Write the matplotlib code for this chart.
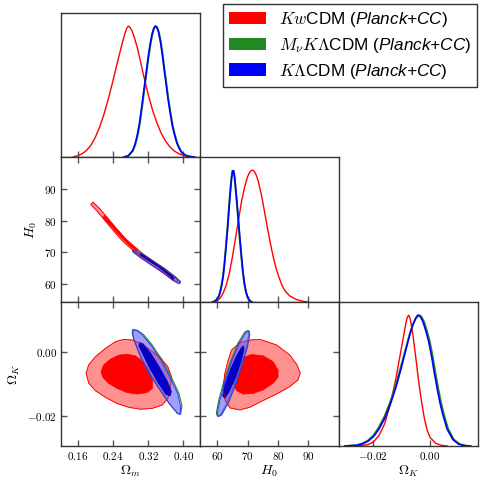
import matplotlib
matplotlib.use('Agg')
import matplotlib.pyplot as plt
from matplotlib.patches import Patch
from matplotlib.font_manager import FontProperties

plt.rcParams['mathtext.fontset'] = 'cm'
plt.rcParams['mathtext.rm'] = 'cmr10'
plt.rcParams['mathtext.it'] = 'cmmi10'
plt.rcParams['mathtext.sf'] = 'Liberation Sans:italic'
plt.rcParams['font.family'] = ['Liberation Sans', 'DejaVu Sans']

# ---- 1D marginals (peak normalised to 1) ----
om_red_x = [0.150, 0.160, 0.170, 0.180, 0.190, 0.200, 0.210, 0.220, 0.230, 0.240, 0.250, 0.256, 0.262,
            0.267, 0.271, 0.275, 0.279, 0.284, 0.290, 0.295, 0.300, 0.310, 0.320, 0.330, 0.340, 0.350,
            0.360, 0.370, 0.380, 0.390, 0.400, 0.410, 0.420]
om_red_y = [0.0, 0.01, 0.025, 0.05, 0.09, 0.15, 0.23, 0.33, 0.45, 0.58, 0.72, 0.80, 0.88,
            0.94, 0.98, 1.0, 0.99, 0.96, 0.90, 0.84, 0.77, 0.62, 0.48, 0.36, 0.26, 0.18,
            0.12, 0.075, 0.045, 0.025, 0.012, 0.005, 0.0]
om_blue_x = [0.265, 0.275, 0.285, 0.290, 0.295, 0.300, 0.305, 0.310, 0.315, 0.320, 0.325, 0.329, 0.333,
             0.3365, 0.340, 0.344, 0.348, 0.352, 0.356, 0.360, 0.365, 0.370, 0.375, 0.380, 0.385, 0.390,
             0.395, 0.400, 0.405, 0.410, 0.415, 0.425]
om_blue_y = [0.0, 0.01, 0.05, 0.095, 0.16, 0.25, 0.37, 0.50, 0.63, 0.76, 0.87, 0.94, 0.985,
             1.0, 0.99, 0.95, 0.88, 0.79, 0.68, 0.58, 0.45, 0.34, 0.24, 0.17, 0.11, 0.07,
             0.04, 0.024, 0.013, 0.007, 0.003, 0.0]
om_green_x = [0.266, 0.276, 0.286, 0.291, 0.296, 0.301, 0.306, 0.311, 0.316, 0.321, 0.326, 0.330, 0.334,
              0.3375, 0.341, 0.345, 0.349, 0.353, 0.357, 0.361, 0.366, 0.371, 0.376, 0.381, 0.386, 0.391,
              0.396, 0.401, 0.406, 0.411, 0.416, 0.426]
om_green_y = om_blue_y

h0_red_x = [59, 60, 61, 62, 63, 64, 65, 66, 67, 68, 69, 70, 70.6, 71.2, 71.8, 72.4, 73.0, 73.5, 74.5,
            75.5, 76.5, 77.5, 78.5, 79.5, 80.5, 81.5, 82.5, 84, 86, 88, 90]
h0_red_y = [0.0, 0.01, 0.03, 0.07, 0.13, 0.22, 0.34, 0.48, 0.62, 0.76, 0.87, 0.95, 0.98, 0.998, 1.0,
            0.985, 0.955, 0.92, 0.82, 0.70, 0.57, 0.45, 0.34, 0.25, 0.18, 0.12, 0.08, 0.045, 0.02,
            0.007, 0.0]
h0_blue_x = [58.5, 59.5, 60.5, 61.0, 61.5, 62.0, 62.5, 63.0, 63.5, 64.0, 64.5, 64.8, 65.1, 65.4, 65.7,
             66.0, 66.5, 67.0, 67.5, 68.0, 68.5, 69.0, 69.5, 70.0, 70.5, 71.0, 71.5]
h0_blue_y = [0.0, 0.01, 0.04, 0.075, 0.13, 0.20, 0.31, 0.44, 0.58, 0.74, 0.88, 0.95, 0.995, 0.995, 0.96,
             0.89, 0.76, 0.62, 0.48, 0.35, 0.23, 0.14, 0.08, 0.04, 0.018, 0.006, 0.0]
h0_green_x = [58.4, 59.4, 60.4, 60.9, 61.4, 61.9, 62.4, 62.9, 63.4, 63.9, 64.4, 64.7, 65.0, 65.3, 65.6,
              65.9, 66.4, 66.9, 67.4, 67.9, 68.4, 68.9, 69.4, 69.9, 70.4, 70.9, 71.4]
h0_green_y = h0_blue_y

ok_red_x = [-0.026, -0.022, -0.020, -0.018, -0.016, -0.014, -0.012, -0.010, -0.009, -0.0085, -0.008,
            -0.0075, -0.007, -0.0065, -0.006, -0.005, -0.004, -0.003, -0.002, -0.001, 0.000, 0.002,
            0.004, 0.006]
ok_red_y = [0.0, 0.01, 0.03, 0.08, 0.17, 0.32, 0.52, 0.76, 0.88, 0.94, 0.985, 1.0, 0.97, 0.91, 0.84,
            0.67, 0.49, 0.34, 0.21, 0.12, 0.065, 0.02, 0.005, 0.0]
ok_blue_x = [-0.030, -0.026, -0.024, -0.022, -0.020, -0.018, -0.016, -0.014, -0.012, -0.010, -0.008,
             -0.007, -0.006, -0.005, -0.0043, -0.0035, -0.0025, -0.0015, -0.0005, 0.0005, 0.0015,
             0.0025, 0.0035, 0.0045, 0.006, 0.008, 0.010, 0.012, 0.014]
ok_blue_y = [0.0, 0.005, 0.015, 0.035, 0.07, 0.13, 0.21, 0.32, 0.45, 0.61, 0.78, 0.86, 0.93, 0.98,
             1.0, 0.99, 0.95, 0.88, 0.80, 0.69, 0.56, 0.44, 0.33, 0.24, 0.13, 0.05, 0.015, 0.003, 0.0]
ok_green_x = [-0.030, -0.026, -0.024, -0.022, -0.020, -0.018, -0.016, -0.014, -0.012, -0.010, -0.008,
              -0.007, -0.006, -0.005, -0.0039, -0.0031, -0.0021, -0.0011, -0.0001, 0.0009, 0.0019,
              0.0029, 0.0039, 0.0049, 0.0064, 0.0084, 0.0104, 0.0124, 0.0144]
ok_green_y = [0.0, 0.006, 0.018, 0.04, 0.08, 0.145, 0.23, 0.34, 0.47, 0.63, 0.79, 0.87, 0.93, 0.975,
              1.0, 0.99, 0.95, 0.88, 0.80, 0.69, 0.56, 0.44, 0.33, 0.24, 0.13, 0.05, 0.015, 0.003, 0.0]

# ---- 2D contours (outer = 95%, inner = 68%), vertices ----
# Omega_m vs H0
omh_red_out = [(0.1945, 85.95), (0.2105, 83.83), (0.2296, 80.64), (0.2486, 77.46), (0.2677, 74.49),
               (0.2906, 71.62), (0.3135, 68.97), (0.3364, 66.63), (0.3592, 64.51), (0.3814, 62.07),
               (0.3882, 61.11), (0.3844, 60.58), (0.3768, 61.22), (0.3531, 63.66), (0.3303, 65.78),
               (0.3074, 68.12), (0.2845, 70.77), (0.2616, 73.64), (0.2425, 76.61), (0.2235, 79.80),
               (0.2044, 82.98), (0.1899, 85.10)]
omh_red_in = [(0.2204, 81.71), (0.2395, 78.84), (0.2586, 75.87), (0.2776, 73.0), (0.2967, 70.88),
              (0.2937, 70.35), (0.2746, 72.47), (0.2555, 75.23), (0.2364, 78.20), (0.2174, 81.07)]
omh_blue_out = [(0.2860, 70.67), (0.3127, 68.86), (0.3356, 66.74), (0.3585, 64.62), (0.3814, 62.17),
                (0.3936, 60.58), (0.3913, 60.05), (0.3768, 61.11), (0.3539, 63.55), (0.3310, 65.68),
                (0.3081, 67.80), (0.2853, 70.14)]
omh_blue_in = [(0.3036, 69.6), (0.3257, 67.69), (0.3486, 65.57), (0.3714, 63.02), (0.3791, 61.86),
               (0.3768, 61.32), (0.3692, 62.49), (0.3463, 65.04), (0.3234, 67.16), (0.3013, 69.18)]
omh_green_out = [(0.2855, 70.90), (0.3127, 69.06), (0.3356, 66.94), (0.3585, 64.82), (0.3814, 62.37),
                 (0.3936, 60.78), (0.3913, 60.15), (0.3768, 61.21), (0.3539, 63.65), (0.3310, 65.78),
                 (0.3081, 67.90), (0.2848, 70.30)]

# Omega_m vs Omega_K
omk_red_out = [(0.179, -0.0066), (0.185, -0.0040), (0.200, -0.0015), (0.223, 0.0011), (0.246, 0.0032),
               (0.265, 0.0039), (0.284, 0.0037), (0.299, 0.0029), (0.314, 0.0017), (0.330, 0.0001),
               (0.349, -0.0020), (0.365, -0.0046), (0.373, -0.0077), (0.371, -0.0113), (0.365, -0.0144),
               (0.352, -0.0165), (0.330, -0.0175), (0.303, -0.0178), (0.276, -0.0172), (0.249, -0.0160),
               (0.223, -0.0141), (0.200, -0.0120), (0.185, -0.0097)]
omk_red_in = [(0.213, -0.0061), (0.219, -0.0040), (0.234, -0.0023), (0.253, -0.0010), (0.272, -0.0007),
              (0.291, -0.0012), (0.309, -0.0030), (0.322, -0.0056), (0.330, -0.0085), (0.330, -0.0113),
              (0.318, -0.0126), (0.295, -0.0131), (0.272, -0.0126), (0.249, -0.0113), (0.230, -0.0097),
              (0.217, -0.0079)]
omk_blue_out = [(0.286, 0.0068), (0.295, 0.0066), (0.307, 0.0053), (0.326, 0.0022), (0.349, -0.0025),
                (0.371, -0.0082), (0.387, -0.0128), (0.394, -0.0170), (0.393, -0.0194), (0.387, -0.0191),
                (0.368, -0.0160), (0.345, -0.0113), (0.322, -0.0066), (0.303, -0.0015), (0.288, 0.0037),
                (0.285, 0.0058)]
omk_blue_in = [(0.301, 0.0029), (0.309, 0.0025), (0.326, -0.0004), (0.345, -0.0046), (0.364, -0.0092),
               (0.373, -0.0123), (0.370, -0.0137), (0.360, -0.0131), (0.341, -0.0092), (0.322, -0.0046),
               (0.307, -0.0004), (0.299, 0.0019)]
omk_green_out = [(0.285, 0.0070), (0.296, 0.0067), (0.310, 0.0053), (0.329, 0.0022), (0.352, -0.0025),
                 (0.374, -0.0082), (0.390, -0.0128), (0.397, -0.0168), (0.394, -0.0192), (0.387, -0.0191),
                 (0.368, -0.0160), (0.345, -0.0113), (0.322, -0.0066), (0.303, -0.0015), (0.288, 0.0037),
                 (0.284, 0.0058)]

# H0 vs Omega_K
hk_red_out = [(61.98, -0.0108), (62.52, -0.0066), (63.62, -0.0025), (64.72, 0.0006), (67.46, 0.0029),
              (70.75, 0.0037), (74.04, 0.0039), (79.52, 0.0022), (83.91, -0.0009), (86.32, -0.0040),
              (87.41, -0.0066), (86.65, -0.0087), (83.91, -0.0108), (79.52, -0.0131), (75.13, -0.0151),
              (70.75, -0.0172), (67.46, -0.0180), (64.17, -0.0174), (62.52, -0.0149)]
hk_red_in = [(65.48, -0.0066), (66.36, -0.0040), (68.55, -0.0017), (71.3, -0.0008), (75.13, -0.0012),
             (78.42, -0.0030), (80.07, -0.0056), (80.07, -0.0079), (78.42, -0.0097), (75.13, -0.0118),
             (71.84, -0.0129), (68.55, -0.0131), (66.36, -0.0120), (65.27, -0.0097)]
hk_blue_out = [(69.43, 0.0060), (70.53, 0.0065), (70.75, 0.0053), (69.87, 0.0011), (68.01, -0.0046),
               (65.81, -0.0108), (63.62, -0.0160), (61.43, -0.0196), (60.33, -0.0201), (60.0, -0.0191),
               (60.88, -0.0149), (62.52, -0.0092), (64.72, -0.0030), (67.24, 0.0027)]
hk_blue_in = [(68.55, 0.0019), (68.88, 0.0011), (68.01, -0.0025), (66.14, -0.0077), (63.95, -0.0123),
              (62.52, -0.0144), (61.76, -0.0137), (62.52, -0.0103), (64.39, -0.0054), (66.36, -0.0012),
              (67.79, 0.0011)]
hk_green_out = [(69.13, 0.0062), (70.23, 0.0067), (70.45, 0.0055), (69.57, 0.0013), (67.71, -0.0044),
                (65.51, -0.0106), (63.32, -0.0158), (61.13, -0.0194), (60.03, -0.0199), (59.70, -0.0189),
                (60.58, -0.0147), (62.22, -0.0090), (64.42, -0.0028), (66.94, 0.0029)]

om_lim = (0.122, 0.438)
h0_lim = (54.3, 100.2)
okx_lim = (-0.0321, 0.0169)
oky_lim = (-0.0292, 0.0155)

om_ticks = [0.16, 0.24, 0.32, 0.40]
om_labels = ['$0.16$', '$0.24$', '$0.32$', '$0.40$']
h0_ticks = [60, 70, 80, 90]
h0_labels = ['$60$', '$70$', '$80$', '$90$']
ok_ticks = [-0.02, 0.00]
ok_labels = ['$-0.02$', '$0.00$']

legend_labels = [r'$Kw$CDM ($\mathsf{Planck}$$\mathsf{+CC}$)',
                 r'$M_\nu K\Lambda$CDM ($\mathsf{Planck}$$\mathsf{+CC}$)',
                 r'$K\Lambda$CDM ($\mathsf{Planck}$$\mathsf{+CC}$)']

RED = '#ff0000'
GREEN = '#1f8a1f'
BLUE = '#0000ff'

fig = plt.figure(figsize=(4.8, 4.8), dpi=100)
W = 139 / 480
lefts = [61 / 480, 200 / 480, 339 / 480]
bottoms = [1 - 157 / 480, 1 - 302 / 480, 1 - 446 / 480]
heights = [144 / 480, 145 / 480, 144 / 480]


def make_ax(col, row):
    ax = fig.add_axes([lefts[col], bottoms[row], W, heights[row]])
    for s in ax.spines.values():
        s.set_color('#333333')
        s.set_linewidth(1.0)
    ax.tick_params(direction='in', length=4, width=1, color='#555555', labelsize=8, pad=3)
    return ax


def style_2d(ax):
    ax.tick_params(top=True, right=True)


def draw_2d(ax, red_out, red_in, green_out, blue_out, blue_in):
    rx, ry = zip(*red_out)
    ax.fill(rx, ry, facecolor='#ff9090', edgecolor=RED, lw=0.6, zorder=1)
    ix, iy = zip(*red_in)
    ax.fill(ix, iy, facecolor=RED, edgecolor=RED, lw=0.5, zorder=2)
    gx, gy = zip(*green_out)
    ax.fill(gx, gy, facecolor='none', edgecolor=GREEN, lw=0.8, zorder=3)
    bx, by = zip(*blue_out)
    ax.fill(bx, by, facecolor='#6060ff', alpha=0.6, edgecolor='none', zorder=4)
    ax.fill(bx, by, facecolor='none', edgecolor='#3030ff', lw=0.7, zorder=5)
    jx, jy = zip(*blue_in)
    ax.fill(jx, jy, facecolor='#0000c8', edgecolor='#0000c8', lw=0.5, zorder=6)
    ax.plot(list(rx) + [rx[0]], list(ry) + [ry[0]], color=RED, lw=0.5, alpha=0.6, zorder=7)


# 1D: Omega_m
ax = make_ax(0, 0)
ax.plot(om_red_x, om_red_y, color=RED, lw=1.0)
ax.plot(om_green_x, om_green_y, color=GREEN, lw=1.3)
ax.plot(om_blue_x, om_blue_y, color=BLUE, lw=1.2)
ax.set_xlim(om_lim)
ax.set_ylim(0, 1.1)
ax.set_yticks([])
ax.set_xticks(om_ticks)
ax.set_xticklabels([])

# 2D: Omega_m - H0
ax = make_ax(0, 1)
draw_2d(ax, omh_red_out, omh_red_in, omh_green_out, omh_blue_out, omh_blue_in)
style_2d(ax)
ax.set_xlim(om_lim)
ax.set_ylim(h0_lim)
ax.set_xticks(om_ticks)
ax.set_xticklabels([])
ax.set_yticks(h0_ticks)
ax.set_yticklabels(h0_labels)
ax.set_ylabel('$H_0$', fontsize=10, labelpad=4)

# 2D: Omega_m - Omega_K
ax = make_ax(0, 2)
draw_2d(ax, omk_red_out, omk_red_in, omk_green_out, omk_blue_out, omk_blue_in)
style_2d(ax)
ax.set_xlim(om_lim)
ax.set_ylim(oky_lim)
ax.set_xticks(om_ticks)
ax.set_xticklabels(om_labels)
ax.set_yticks(ok_ticks)
ax.set_yticklabels(ok_labels)
ax.set_xlabel(r'$\Omega_m$', fontsize=10, labelpad=1)
ax.set_ylabel(r'$\Omega_K$', fontsize=10, labelpad=4)

# 1D: H0
ax = make_ax(1, 1)
ax.plot(h0_red_x, h0_red_y, color=RED, lw=1.0)
ax.plot(h0_green_x, h0_green_y, color=GREEN, lw=1.3)
ax.plot(h0_blue_x, h0_blue_y, color=BLUE, lw=1.2)
ax.set_xlim(h0_lim)
ax.set_ylim(0, 1.1)
ax.set_yticks([])
ax.set_xticks(h0_ticks)
ax.set_xticklabels([])

# 2D: H0 - Omega_K
ax = make_ax(1, 2)
draw_2d(ax, hk_red_out, hk_red_in, hk_green_out, hk_blue_out, hk_blue_in)
style_2d(ax)
ax.set_xlim(h0_lim)
ax.set_ylim(oky_lim)
ax.set_xticks(h0_ticks)
ax.set_xticklabels(h0_labels)
ax.set_yticks(ok_ticks)
ax.set_yticklabels([])
ax.set_xlabel('$H_0$', fontsize=10, labelpad=1)

# 1D: Omega_K
ax = make_ax(2, 2)
ax.plot(ok_red_x, ok_red_y, color=RED, lw=1.0)
ax.plot(ok_green_x, ok_green_y, color=GREEN, lw=1.3)
ax.plot(ok_blue_x, ok_blue_y, color=BLUE, lw=1.2)
ax.set_xlim(okx_lim)
ax.set_ylim(0, 1.1)
ax.set_yticks([])
ax.set_xticks(ok_ticks)
ax.set_xticklabels(ok_labels)
ax.set_xlabel(r'$\Omega_K$', fontsize=10, labelpad=1)

handles = [Patch(facecolor=c, edgecolor='none') for c in [RED, GREEN, BLUE]]
leg = fig.legend(handles, legend_labels, loc='upper right', bbox_to_anchor=(477 / 480, 1 - 4 / 480),
                 prop=FontProperties(family='Liberation Sans', size=12.3, math_fontfamily='custom'),
                 frameon=True, fancybox=False, handlelength=2.15, handleheight=0.75, handletextpad=0.75,
                 labelspacing=0.4, borderpad=0.35, borderaxespad=0)
leg.get_frame().set_edgecolor('black')
leg.get_frame().set_linewidth(1.0)

fig.savefig('out.png', dpi=100)
